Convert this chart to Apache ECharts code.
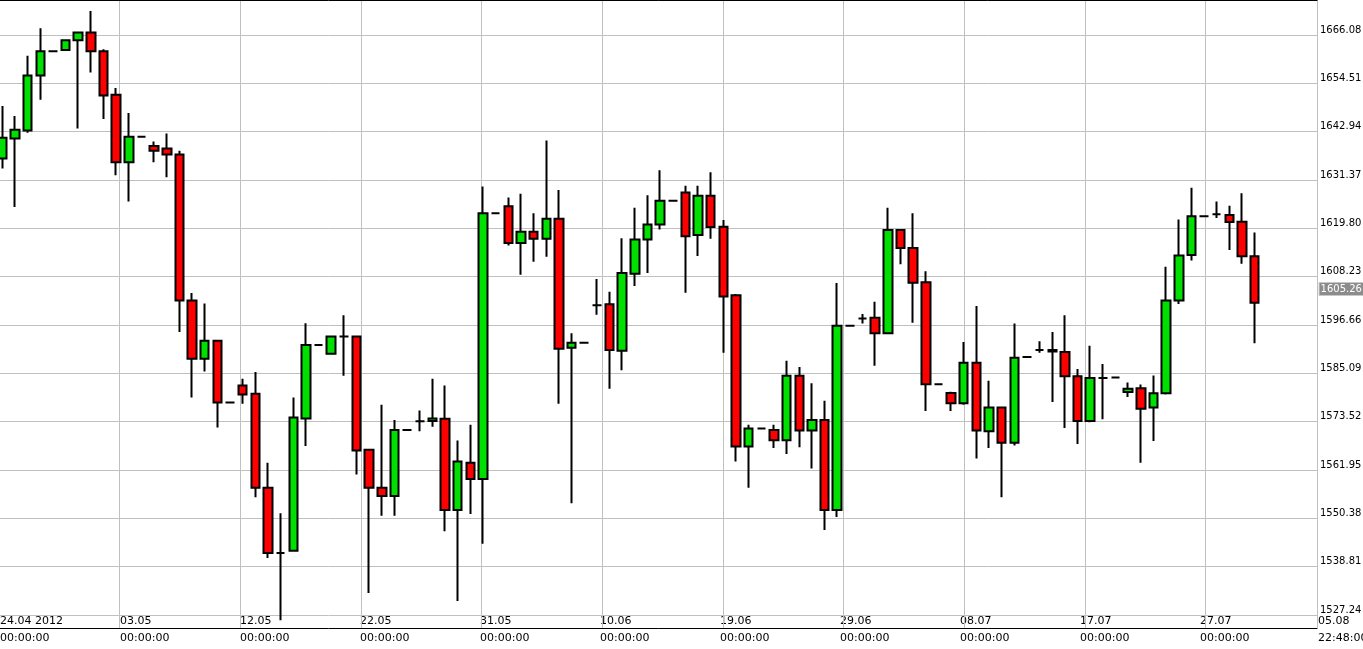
<!DOCTYPE html>
<html>
<head>
<meta charset="utf-8">
<script src="https://cdn.jsdelivr.net/npm/echarts@6/dist/echarts.min.js"></script>
<style>
    html, body { margin: 0; padding: 0; background: #fff; }
    #chartDiv { width: 1363px; height: 649px; }
</style>
</head>
<body>
<div id="chartDiv"></div>
<script>
    // 日K数据 (开, 收, 低, 高)
    var opens = [1636.5, 1641.3, 1643.2, 1656.4, 1662.2, 1662.5, 1664.8, 1666.7, 1662.2, 1651.8,
        1635.6, 1641.7, 1639.5, 1638.9, 1637.5, 1602.5, 1588.6, 1592.9, 1578.1, 1582.2,
        1580.2, 1557.7, 1542.1, 1542.6, 1574.3, 1591.9, 1589.8, 1593.9, 1593.9, 1566.8,
        1557.7, 1555.7, 1571.5, 1573.6, 1573.7, 1574.2, 1552.4, 1563.7, 1559.8, 1623.4,
        1625.1, 1616.3, 1619.0, 1617.3, 1622.1, 1591.2, 1592.4, 1601.4, 1601.6, 1590.5,
        1608.9, 1617.1, 1620.7, 1626.4, 1628.4, 1618.2, 1627.6, 1620.2, 1603.8, 1567.6,
        1571.9, 1571.5, 1569.1, 1584.5, 1571.4, 1573.9, 1552.4, 1596.5, 1598.2, 1598.4,
        1594.7, 1619.4, 1615.1, 1606.9, 1582.5, 1580.4, 1577.9, 1587.6, 1571.2, 1576.9,
        1568.5, 1589.0, 1590.7, 1590.7, 1590.2, 1584.4, 1573.7, 1584.0, 1584.1, 1580.6,
        1581.5, 1576.9, 1580.3, 1602.5, 1613.4, 1622.7, 1623.2, 1623.0, 1621.4, 1613.1];
    var closes = [1641.5, 1643.4, 1656.4, 1662.2, 1662.2, 1664.8, 1666.7, 1662.2, 1651.6, 1635.6,
        1641.7, 1641.7, 1638.4, 1637.5, 1602.5, 1588.6, 1592.9, 1578.1, 1578.1, 1580.0,
        1557.7, 1542.1, 1542.1, 1574.5, 1591.9, 1591.9, 1593.9, 1593.9, 1566.6, 1557.7,
        1555.7, 1571.5, 1571.5, 1573.6, 1574.3, 1552.4, 1564.0, 1559.8, 1623.4, 1623.4,
        1616.3, 1619.0, 1617.3, 1622.1, 1591.0, 1592.4, 1592.4, 1601.4, 1590.7, 1609.1,
        1617.1, 1620.7, 1626.4, 1626.4, 1617.9, 1627.6, 1620.1, 1603.5, 1567.6, 1571.9,
        1571.9, 1569.1, 1584.5, 1571.4, 1573.9, 1552.4, 1596.5, 1596.5, 1598.2, 1594.7,
        1619.4, 1615.1, 1606.8, 1582.5, 1582.5, 1577.9, 1587.6, 1571.4, 1576.9, 1568.5,
        1588.8, 1589.0, 1590.7, 1590.3, 1584.4, 1573.7, 1584.0, 1584.0, 1584.1, 1581.4,
        1576.6, 1580.3, 1602.5, 1613.3, 1622.7, 1622.7, 1623.2, 1621.3, 1613.1, 1602.0];
    var lows = [1634.1, 1624.9, 1642.7, 1650.6, 1662.2, 1662.5, 1643.7, 1657.1, 1646.0, 1632.5,
        1626.2, 1641.7, 1635.6, 1632.0, 1595.0, 1579.3, 1585.5, 1572.1, 1578.1, 1577.8,
        1555.4, 1540.9, 1526.0, 1542.6, 1567.7, 1591.9, 1589.8, 1584.5, 1560.9, 1532.5,
        1551.0, 1551.0, 1571.5, 1571.2, 1572.3, 1547.3, 1530.6, 1551.4, 1544.3, 1623.4,
        1615.7, 1608.7, 1611.8, 1613.0, 1577.8, 1554.0, 1592.4, 1599.1, 1581.4, 1585.8,
        1606.0, 1609.1, 1619.5, 1626.4, 1604.4, 1613.2, 1617.3, 1590.0, 1564.0, 1557.7,
        1571.9, 1567.2, 1565.8, 1567.4, 1562.3, 1547.6, 1550.7, 1596.5, 1597.0, 1586.9,
        1594.7, 1611.2, 1597.2, 1576.1, 1582.5, 1576.1, 1577.6, 1564.7, 1567.2, 1555.4,
        1567.8, 1589.0, 1590.0, 1578.2, 1572.0, 1568.2, 1573.4, 1574.1, 1584.1, 1579.4,
        1563.7, 1568.9, 1580.0, 1601.7, 1612.1, 1622.7, 1622.3, 1614.6, 1611.3, 1592.3];
    var highs = [1649.1, 1646.7, 1661.1, 1667.7, 1662.2, 1664.8, 1666.7, 1671.8, 1662.7, 1653.4,
        1647.4, 1641.7, 1640.6, 1642.5, 1638.4, 1604.3, 1601.8, 1592.9, 1578.1, 1583.8,
        1585.4, 1563.7, 1551.6, 1579.3, 1597.1, 1591.9, 1593.9, 1599.0, 1593.9, 1566.8,
        1577.6, 1573.9, 1571.5, 1576.2, 1583.8, 1582.2, 1569.0, 1572.8, 1629.8, 1623.4,
        1627.2, 1628.1, 1623.4, 1640.8, 1629.0, 1594.7, 1592.4, 1607.7, 1604.6, 1617.4,
        1624.7, 1627.7, 1633.7, 1626.4, 1630.0, 1630.0, 1633.2, 1621.8, 1604.1, 1572.8,
        1571.9, 1572.8, 1588.1, 1586.6, 1582.7, 1578.5, 1606.7, 1596.5, 1599.3, 1602.2,
        1624.7, 1619.4, 1623.4, 1609.5, 1582.5, 1580.7, 1592.6, 1601.2, 1583.3, 1577.1,
        1597.0, 1589.0, 1592.8, 1595.0, 1599.0, 1586.1, 1591.7, 1587.3, 1584.1, 1582.9,
        1582.4, 1584.6, 1610.6, 1621.9, 1629.5, 1622.7, 1626.2, 1625.2, 1628.2, 1618.8];
    var dateLabels = ['24.04 2012', '03.05', '12.05', '22.05', '31.05', '10.06', '19.06',
        '29.06', '08.07', '17.07', '27.07'];
    var lastPrice = 1605.26;

    var yMin = 1527.24, yMax = 1674.46, yStep = 11.57;

    var categories = [];
    var kData = [];
    for (var i = 0; i < 104; i++) {
        categories.push(i);
        if (i < opens.length) {
            kData.push([opens[i], closes[i], lows[i], highs[i]]);
        }
    }

    var font = 'DejaVu Sans';
    var noBounds = {outerBoundsMode: 'none', containLabel: false};
    var chart = echarts.init(document.getElementById('chartDiv'));
    chart.setOption({
        animation: false,
        backgroundColor: '#fff',
        grid: [
            // K线
            echarts.util.extend({left: -4, right: 51.4, top: 0, bottom: 34}, noBounds),
            // 横向网格线 + 价格刻度
            echarts.util.extend({left: -1, right: 46, top: 0, bottom: 34}, noBounds),
            // 时间网格线 + 外框
            echarts.util.extend({left: -1, right: 46, top: 0, bottom: 21}, noBounds)
        ],
        xAxis: [{
            type: 'category', gridIndex: 0, data: categories, boundaryGap: true,
            axisLine: {show: false}, axisTick: {show: false}, axisLabel: {show: false}, splitLine: {show: false}
        }, {
            type: 'value', gridIndex: 1, min: 0, max: 1,
            axisLine: {show: false}, axisTick: {show: false}, axisLabel: {show: false}, splitLine: {show: false}
        }, {
            type: 'value', gridIndex: 2, position: 'bottom', min: 0, max: 1311 / 120, interval: 1,
            axisLine: {show: true, lineStyle: {color: '#000', width: 1}},
            axisTick: {show: false}, axisLabel: {show: false},
            splitLine: {show: true, lineStyle: {color: '#c0c0c0', width: 1}}
        }, {
            type: 'value', gridIndex: 2, position: 'top', min: 0, max: 1311 / 120,
            axisLine: {show: true, lineStyle: {color: '#000', width: 1}},
            axisTick: {show: false}, axisLabel: {show: false}, splitLine: {show: false}
        }],
        yAxis: [{
            type: 'value', gridIndex: 0, min: yMin, max: yMax, show: false, splitLine: {show: false}
        }, {
            type: 'value', gridIndex: 1, position: 'right',
            min: yMin, max: yMax, interval: yStep,
            axisLine: {show: false}, axisTick: {show: false},
            axisLabel: {
                showMaxLabel: false,
                margin: 3,
                verticalAlign: 'bottom',
                color: '#000',
                fontFamily: font,
                fontSize: 10,
                formatter: function (v) { return v.toFixed(2); }
            },
            splitLine: {lineStyle: {color: '#c0c0c0', width: 1}}
        }, {
            type: 'value', gridIndex: 2, position: 'right', min: 0, max: 1,
            axisLine: {show: true, lineStyle: {color: '#000', width: 1}},
            axisTick: {show: false}, axisLabel: {show: false}, splitLine: {show: false}
        }],
        series: [{
            type: 'candlestick',
            xAxisIndex: 0,
            yAxisIndex: 0,
            data: kData,
            barWidth: 9,
            itemStyle: {
                color: '#00e000',
                color0: '#ff0000',
                borderColor: '#000',
                borderColor0: '#000',
                borderColorDoji: '#000',
                borderWidth: 2
            },
            markLine: {
                silent: true,
                symbol: 'none',
                lineStyle: {color: 'rgba(0,0,0,0)', width: 1},
                label: {
                    show: true,
                    position: 'end',
                    distance: 8,
                    formatter: lastPrice.toFixed(2),
                    color: '#fff',
                    backgroundColor: '#8c8c8c',
                    borderColor: '#c8c8c8',
                    borderWidth: 1,
                    padding: [1, 1],
                    fontFamily: font,
                    fontSize: 10
                },
                data: [{yAxis: lastPrice}]
            }
        }],
        graphic: dateLabels.map(function (d, k) {
            return {
                type: 'text',
                left: k * 120,
                top: 613,
                style: {
                    text: d + '\n00:00:00',
                    fill: '#000',
                    font: '11px ' + font,
                    lineHeight: 17
                }
            };
        }).concat([{
            type: 'text',
            left: 1318,
            top: 613,
            style: {text: '05.08\n22:48:00', fill: '#000', font: '11px ' + font, lineHeight: 17}
        }])
    });
</script>
</body>
</html>
